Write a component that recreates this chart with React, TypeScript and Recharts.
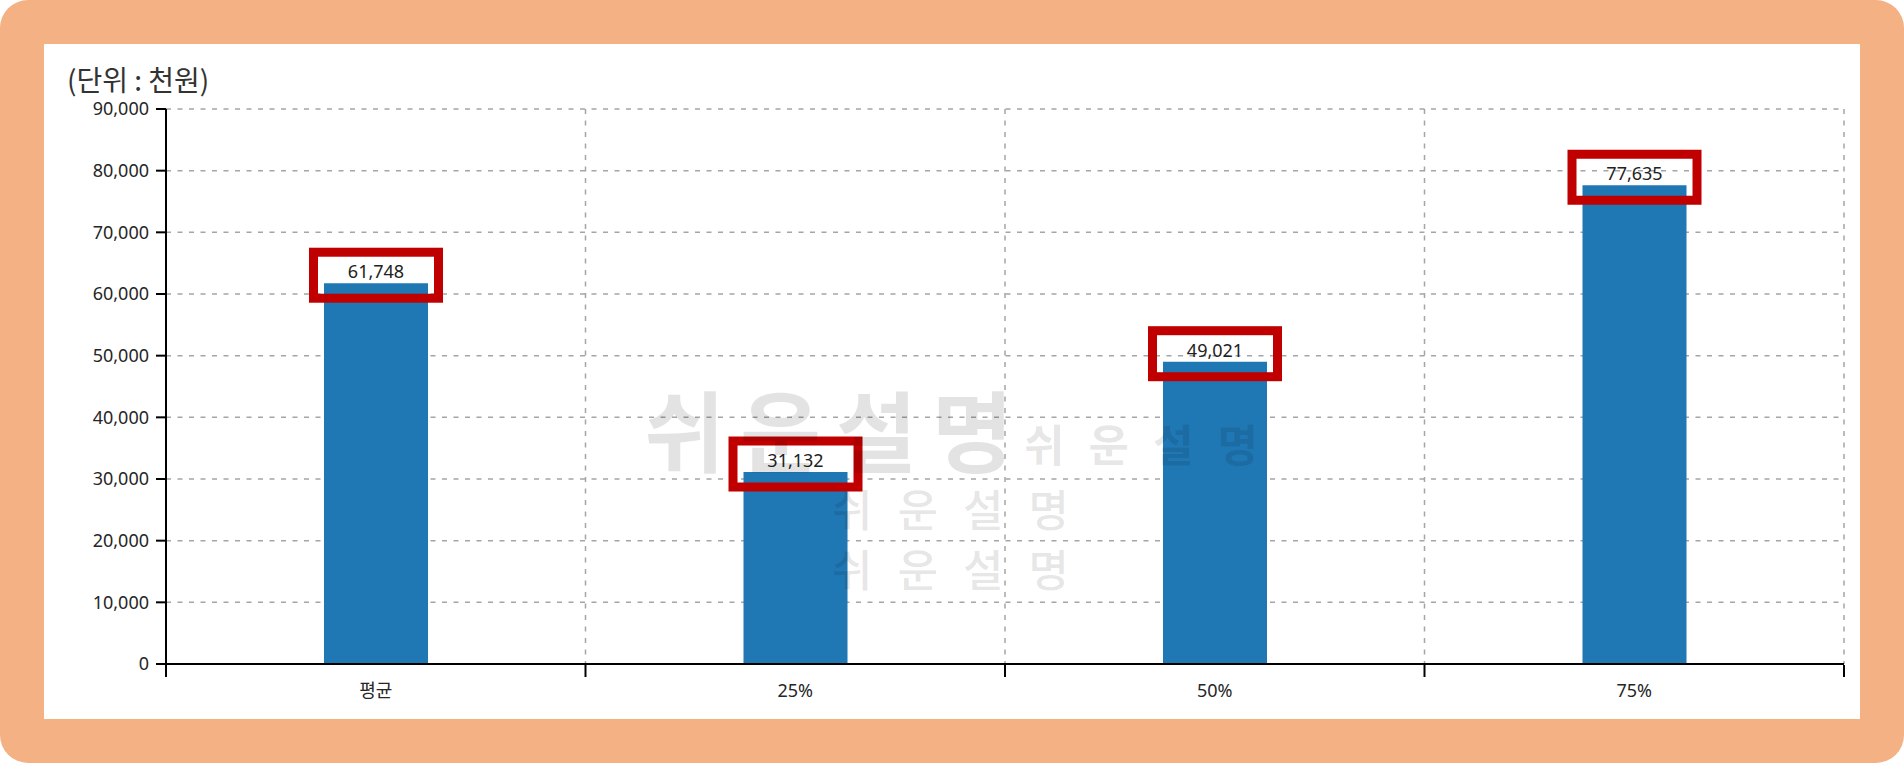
import React from 'react';
import { BarChart, Bar, XAxis, YAxis, CartesianGrid, LabelList } from 'recharts';

const categories = ['평균', '25%', '50%', '75%'];
const values = [61748, 31132, 49021, 77635];
const yTicks = [0, 10000, 20000, 30000, 40000, 50000, 60000, 70000, 80000, 90000];
const bandEdges = [0, 1, 2, 3, 4];
const innerEdges = [1, 2, 3];

const data = categories.map((name, i) => ({ name, value: values[i] }));

const FONT = '"Noto Sans", "Noto Sans CJK KR", sans-serif';
const TICK = { fontSize: 18, fill: '#262626', fontFamily: FONT };
const AXIS_LINE = { stroke: '#000', strokeWidth: 2 };

const fmt = (v: number) => v.toLocaleString('en-US');

function BoxedLabel(props: any) {
  const { x, y, width, value } = props;
  const cx = x + width / 2;
  return (
    <g>
      <rect x={cx - 62.5} y={y - 31} width={125} height={46} fill="none" stroke="#C00000" strokeWidth={9} />
      <text x={cx} y={y - 5} textAnchor="middle" fontSize={18} fill="#222" fontFamily={FONT}>
        {fmt(value)}
      </text>
    </g>
  );
}

function Watermark() {
  const base: React.CSSProperties = {
    position: 'absolute',
    fontFamily: '"Noto Sans CJK KR", sans-serif',
    color: 'rgba(0,0,0,0.11)',
    whiteSpace: 'nowrap',
    pointerEvents: 'none',
  };
  return (
    <>
      <div style={{ ...base, left: 644, top: 383, fontSize: 88, lineHeight: '88px', fontWeight: 700, letterSpacing: 15 }}>쉬운설명</div>
      <div style={{ ...base, left: 1024, top: 421, fontSize: 44, lineHeight: '44px', fontWeight: 700, letterSpacing: 24 }}>쉬운설명</div>
      <div style={{ ...base, left: 832, top: 486, fontSize: 44, lineHeight: '44px', fontWeight: 500, letterSpacing: 25 }}>쉬운설명</div>
      <div style={{ ...base, left: 832, top: 546, fontSize: 44, lineHeight: '44px', fontWeight: 500, letterSpacing: 25 }}>쉬운설명</div>
    </>
  );
}

export default function App() {
  return (
    <div style={{ position: 'absolute', left: 0, top: 0, width: 1904, height: 763, background: '#fff' }}>
      <div style={{ position: 'absolute', inset: 0, background: '#F4B183', borderRadius: 28 }} />
      <div style={{ position: 'absolute', left: 44, top: 44, width: 1816, height: 675, background: '#fff' }} />
      <div
        style={{
          position: 'absolute',
          left: 67,
          top: 63,
          fontSize: 28,
          lineHeight: '32px',
          color: '#333',
          fontFamily: '"Noto Sans CJK KR", sans-serif',
        }}
      >
        (단위 : 천원)
      </div>
      <div style={{ position: 'absolute', left: 0, top: 0 }}>
        <BarChart width={1904} height={763} data={data} margin={{ top: 109, right: 60, left: 66, bottom: 97 }}>
          <CartesianGrid xAxisId="grid" stroke="#a5a5a5" strokeWidth={1.5} strokeDasharray="5 6.5" />
          <XAxis xAxisId="grid" dataKey="value" type="number" domain={[0, 4]} ticks={innerEdges} allowDataOverflow hide />
          <XAxis
            xAxisId="cat"
            dataKey="name"
            tick={TICK}
            tickLine={false}
            tickSize={0}
            tickMargin={20}
            axisLine={AXIS_LINE}
            height={1}
          />
          <XAxis
            xAxisId="edge"
            dataKey="value"
            type="number"
            domain={[0, 4]}
            ticks={bandEdges}
            allowDataOverflow
            tickFormatter={() => ''}
            tickSize={12}
            tickLine={AXIS_LINE}
            axisLine={false}
            interval={0}
            height={1}
          />
          <YAxis
            domain={[0, 90000]}
            ticks={yTicks}
            tickFormatter={fmt}
            tick={TICK}
            tickSize={10}
            tickMargin={7}
            tickLine={AXIS_LINE}
            axisLine={AXIS_LINE}
            width={100}
            interval={0}
          />
          <Bar xAxisId="cat" dataKey="value" fill="#1f77b4" barSize={104} isAnimationActive={false}>
            <LabelList dataKey="value" content={<BoxedLabel />} />
          </Bar>
        </BarChart>
      </div>
      <Watermark />
    </div>
  );
}
